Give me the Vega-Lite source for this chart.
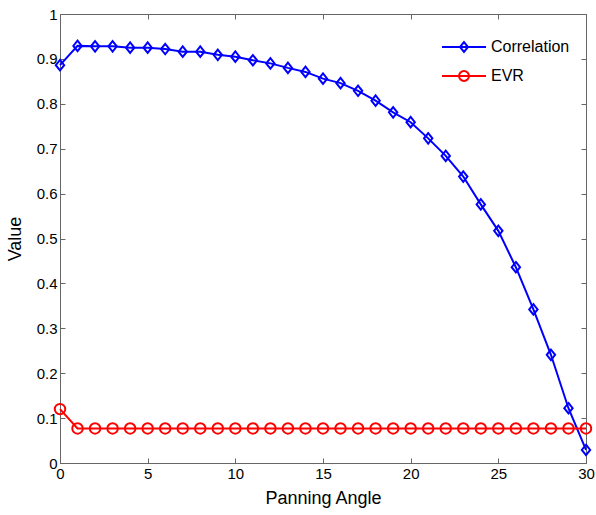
{
  "$schema": "https://vega.github.io/schema/vega-lite/v6.json",
  "width": 526,
  "height": 449,
  "autosize": {"type": "none"},
  "padding": {"left": 60, "top": 14, "right": 10, "bottom": 52},
  "background": "white",
  "config": {
    "font": "Liberation Sans",
    "view": {"stroke": "#666666", "strokeWidth": 1},
    "axis": {
      "grid": false,
      "domainColor": "#666666",
      "tickColor": "#666666",
      "tickSize": -5,
      "labelFont": "Liberation Sans",
      "labelFontSize": 15,
      "labelColor": "#000000",
      "titleFont": "Liberation Sans",
      "titleFontSize": 18,
      "titleFontWeight": "normal",
      "titleColor": "#000000"
    }
  },
  "data": {
    "values": [
      {"angle": 0, "series": "Correlation", "value": 0.886},
      {"angle": 1, "series": "Correlation", "value": 0.929},
      {"angle": 2, "series": "Correlation", "value": 0.928},
      {"angle": 3, "series": "Correlation", "value": 0.928},
      {"angle": 4, "series": "Correlation", "value": 0.925},
      {"angle": 5, "series": "Correlation", "value": 0.925},
      {"angle": 6, "series": "Correlation", "value": 0.922},
      {"angle": 7, "series": "Correlation", "value": 0.916},
      {"angle": 8, "series": "Correlation", "value": 0.916},
      {"angle": 9, "series": "Correlation", "value": 0.909},
      {"angle": 10, "series": "Correlation", "value": 0.905},
      {"angle": 11, "series": "Correlation", "value": 0.897},
      {"angle": 12, "series": "Correlation", "value": 0.890},
      {"angle": 13, "series": "Correlation", "value": 0.880},
      {"angle": 14, "series": "Correlation", "value": 0.871},
      {"angle": 15, "series": "Correlation", "value": 0.856},
      {"angle": 16, "series": "Correlation", "value": 0.846},
      {"angle": 17, "series": "Correlation", "value": 0.829},
      {"angle": 18, "series": "Correlation", "value": 0.807},
      {"angle": 19, "series": "Correlation", "value": 0.781},
      {"angle": 20, "series": "Correlation", "value": 0.759},
      {"angle": 21, "series": "Correlation", "value": 0.723},
      {"angle": 22, "series": "Correlation", "value": 0.684},
      {"angle": 23, "series": "Correlation", "value": 0.638},
      {"angle": 24, "series": "Correlation", "value": 0.576},
      {"angle": 25, "series": "Correlation", "value": 0.517},
      {"angle": 26, "series": "Correlation", "value": 0.436},
      {"angle": 27, "series": "Correlation", "value": 0.342},
      {"angle": 28, "series": "Correlation", "value": 0.241},
      {"angle": 29, "series": "Correlation", "value": 0.122},
      {"angle": 30, "series": "Correlation", "value": 0.029},
      {"angle": 0, "series": "EVR", "value": 0.120},
      {"angle": 1, "series": "EVR", "value": 0.077},
      {"angle": 2, "series": "EVR", "value": 0.077},
      {"angle": 3, "series": "EVR", "value": 0.077},
      {"angle": 4, "series": "EVR", "value": 0.077},
      {"angle": 5, "series": "EVR", "value": 0.077},
      {"angle": 6, "series": "EVR", "value": 0.077},
      {"angle": 7, "series": "EVR", "value": 0.077},
      {"angle": 8, "series": "EVR", "value": 0.077},
      {"angle": 9, "series": "EVR", "value": 0.077},
      {"angle": 10, "series": "EVR", "value": 0.077},
      {"angle": 11, "series": "EVR", "value": 0.077},
      {"angle": 12, "series": "EVR", "value": 0.077},
      {"angle": 13, "series": "EVR", "value": 0.077},
      {"angle": 14, "series": "EVR", "value": 0.077},
      {"angle": 15, "series": "EVR", "value": 0.077},
      {"angle": 16, "series": "EVR", "value": 0.077},
      {"angle": 17, "series": "EVR", "value": 0.077},
      {"angle": 18, "series": "EVR", "value": 0.077},
      {"angle": 19, "series": "EVR", "value": 0.077},
      {"angle": 20, "series": "EVR", "value": 0.077},
      {"angle": 21, "series": "EVR", "value": 0.077},
      {"angle": 22, "series": "EVR", "value": 0.077},
      {"angle": 23, "series": "EVR", "value": 0.077},
      {"angle": 24, "series": "EVR", "value": 0.077},
      {"angle": 25, "series": "EVR", "value": 0.077},
      {"angle": 26, "series": "EVR", "value": 0.077},
      {"angle": 27, "series": "EVR", "value": 0.077},
      {"angle": 28, "series": "EVR", "value": 0.077},
      {"angle": 29, "series": "EVR", "value": 0.077},
      {"angle": 30, "series": "EVR", "value": 0.077}
    ]
  },
  "layer": [
    {
      "mark": {"type": "line", "strokeWidth": 2, "clip": false},
      "encoding": {
        "x": {
          "field": "angle", "type": "quantitative",
          "scale": {"domain": [0, 30], "nice": false, "zero": false},
          "axis": {"orient": "bottom", "title": "Panning Angle", "values": [0, 5, 10, 15, 20, 25, 30], "labelPadding": 8, "titlePadding": 8, "labelFlush": false}
        },
        "y": {
          "field": "value", "type": "quantitative",
          "scale": {"domain": [0, 1], "nice": false},
          "axis": {"orient": "left", "title": "Value", "values": [0, 0.1, 0.2, 0.3, 0.4, 0.5, 0.6, 0.7, 0.8, 0.9, 1], "format": ".1~f", "labelPadding": 8, "titlePadding": 12, "labelFlush": false}
        },
        "color": {
          "field": "series", "type": "nominal",
          "scale": {"domain": ["Correlation", "EVR"], "range": ["#0000ff", "#ff0000"]},
          "legend": {
            "orient": "none",
            "legendX": 396,
            "legendY": 25,
            "title": null,
            "padding": 0,
            "labelFont": "Liberation Sans",
            "labelFontSize": 16,
            "labelColor": "#000000",
            "labelOffset": 19,
            "rowPadding": 11,
            "symbolSize": 121,
            "symbolStrokeWidth": 2,
            "encode": {
              "symbols": {
                "update": {
                  "shape": {"signal": "datum.value === 'Correlation' ? 'M-4,0H4M0,-0.9L0.73,0L0,0.9L-0.73,0Z' : 'M-4,0H4M-0.9,0A0.9,0.9 0 1,0 0.9,0A0.9,0.9 0 1,0 -0.9,0'"},
                  "fill": {"value": "transparent"},
                  "size": {"value": 121},
                  "strokeWidth": {"value": 2}
                }
              }
            }
          }
        }
      }
    },
    {
      "transform": [{"filter": "datum.series === 'Correlation'"}],
      "mark": {"type": "point", "filled": false, "strokeWidth": 2, "size": 110, "opacity": 1, "clip": false, "color": "#0000ff", "shape": "M0,-1L0.8,0L0,1L-0.8,0Z"},
      "encoding": {
        "x": {"field": "angle", "type": "quantitative", "axis": null},
        "y": {"field": "value", "type": "quantitative", "axis": null}
      }
    },
    {
      "transform": [{"filter": "datum.series === 'EVR'"}],
      "mark": {"type": "point", "filled": false, "strokeWidth": 2, "size": 110, "opacity": 1, "clip": false, "color": "#ff0000", "shape": "circle"},
      "encoding": {
        "x": {"field": "angle", "type": "quantitative", "axis": null},
        "y": {"field": "value", "type": "quantitative", "axis": null}
      }
    },
    {
      "mark": {"type": "line", "opacity": 0},
      "encoding": {
        "x": {"field": "angle", "type": "quantitative", "axis": {"orient": "top", "title": null, "labels": false, "domain": false, "values": [0, 5, 10, 15, 20, 25, 30]}},
        "y": {"field": "value", "type": "quantitative", "axis": {"orient": "right", "title": null, "labels": false, "domain": false, "values": [0, 0.1, 0.2, 0.3, 0.4, 0.5, 0.6, 0.7, 0.8, 0.9, 1]}},
        "detail": {"field": "series"}
      }
    }
  ],
  "resolve": {"axis": {"x": "independent", "y": "independent"}}
}
